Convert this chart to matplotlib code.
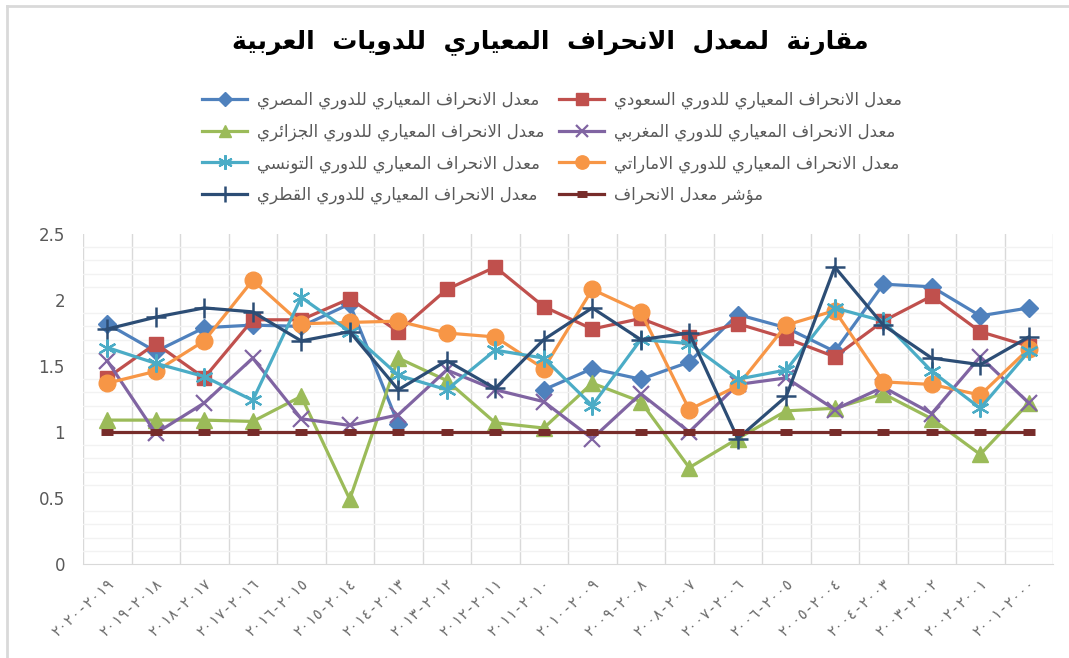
import matplotlib
matplotlib.use("Agg")
import matplotlib.pyplot as plt
import numpy as np

# ---------------- data ----------------
categories = ["٢٠٢٠-٢٠١٩", "٢٠١٩-٢٠١٨", "٢٠١٨-٢٠١٧", "٢٠١٧-٢٠١٦", "٢٠١٦-٢٠١٥",
              "٢٠١٥-٢٠١٤", "٢٠١٤-٢٠١٣", "٢٠١٣-٢٠١٢", "٢٠١٢-٢٠١١", "٢٠١١-٢٠١٠",
              "٢٠١٠-٢٠٠٩", "٢٠٠٩-٢٠٠٨", "٢٠٠٨-٢٠٠٧", "٢٠٠٧-٢٠٠٦", "٢٠٠٦-٢٠٠٥",
              "٢٠٠٥-٢٠٠٤", "٢٠٠٤-٢٠٠٣", "٢٠٠٣-٢٠٠٢", "٢٠٠٢-٢٠٠١", "٢٠٠١-٢٠٠٠"]

egypt = [1.82, 1.61, 1.79, 1.81, 1.80, 1.97, 1.06, None, None, 1.32,
         1.48, 1.40, 1.53, 1.89, 1.79, 1.61, 2.12, 2.10, 1.88, 1.94]
saudi = [1.41, 1.67, 1.41, 1.85, 1.85, 2.01, 1.76, 2.08, 2.25, 1.95,
         1.78, 1.86, 1.72, 1.82, 1.71, 1.57, 1.84, 2.03, 1.76, 1.65]
algeria = [1.09, 1.09, 1.09, 1.08, 1.27, 0.49, 1.56, 1.39, 1.07, 1.03,
           1.37, 1.23, 0.73, 0.95, 1.16, 1.18, 1.29, 1.10, 0.83, 1.22]
morocco = [1.54, 0.99, 1.22, 1.56, 1.10, 1.05, 1.13, 1.47, 1.32, 1.23,
           0.95, 1.29, 1.00, 1.36, 1.41, 1.17, 1.34, 1.14, 1.57, 1.22]
uae = [1.37, 1.46, 1.69, 2.15, 1.82, 1.83, 1.84, 1.75, 1.72, 1.48,
       2.08, 1.91, 1.17, 1.35, 1.81, 1.92, 1.38, 1.36, 1.28, 1.63]
tunisia = [1.64, 1.52, 1.42, 1.24, 2.02, 1.76, 1.43, 1.32, 1.62, 1.56,
           1.20, 1.70, 1.67, 1.40, 1.47, 1.94, 1.84, 1.46, 1.18, 1.61]
qatar = [1.78, 1.87, 1.94, 1.91, 1.69, 1.76, 1.32, 1.54, 1.33, 1.70,
         1.94, 1.70, 1.75, 0.95, 1.27, 2.25, 1.81, 1.56, 1.51, 1.72]
index_line = [1.0] * 20

title = "مقارنة لمعدل الانحراف المعياري للدويات العربية"
names = {
    "egypt": "معدل الانحراف المعياري للدوري المصري",
    "saudi": "معدل الانحراف المعياري للدوري السعودي",
    "algeria": "معدل الانحراف المعياري للدوري الجزائري",
    "morocco": "معدل الانحراف المعياري للدوري المغربي",
    "tunisia": "معدل الانحراف المعياري للدوري التونسي",
    "uae": "معدل الانحراف المعياري للدوري الاماراتي",
    "qatar": "معدل الانحراف المعياري للدوري القطري",
    "index": "مؤشر معدل الانحراف",
}
y_ticks = [0, 0.5, 1, 1.5, 2, 2.5]
y_tick_labels = ["0", "0.5", "1", "1.5", "2", "2.5"]

# ---------------- minimal Arabic shaping ----------------
_DUAL = {'\u0626': 0xFE89, '\u0628': 0xFE8F, '\u062A': 0xFE95, '\u062B': 0xFE99,
         '\u062C': 0xFE9D, '\u062D': 0xFEA1, '\u062E': 0xFEA5, '\u0633': 0xFEB1,
         '\u0634': 0xFEB5, '\u0635': 0xFEB9, '\u0636': 0xFEBD, '\u0637': 0xFEC1,
         '\u0638': 0xFEC5, '\u0639': 0xFEC9, '\u063A': 0xFECD, '\u0641': 0xFED1,
         '\u0642': 0xFED5, '\u0643': 0xFED9, '\u0644': 0xFEDD, '\u0645': 0xFEE1,
         '\u0646': 0xFEE5, '\u0647': 0xFEE9, '\u064A': 0xFEF1}
_RIGHT = {'\u0622': 0xFE81, '\u0623': 0xFE83, '\u0624': 0xFE85, '\u0625': 0xFE87,
          '\u0627': 0xFE8D, '\u0629': 0xFE93, '\u062F': 0xFEA9, '\u0630': 0xFEAB,
          '\u0631': 0xFEAD, '\u0632': 0xFEAF, '\u0648': 0xFEED, '\u0649': 0xFEEF}
_NONE = {'\u0621': 0xFE80}
_LAMALEF = {'\u0622': 0xFEF5, '\u0623': 0xFEF7, '\u0625': 0xFEF9, '\u0627': 0xFEFB}


def _joins(c):
    return c in _DUAL or c in _RIGHT


def shape(text):
    out = []
    i = 0
    n = len(text)
    prev_dual = False
    while i < n:
        c = text[i]
        if c == '\u0644' and i + 1 < n and text[i + 1] in _LAMALEF:
            base = _LAMALEF[text[i + 1]]
            out.append(chr(base + (1 if prev_dual else 0)))
            prev_dual = False
            i += 2
            continue
        nxt = text[i + 1] if i + 1 < n else ''
        if c in _DUAL:
            cp = prev_dual
            cn = _joins(nxt)
            base = _DUAL[c]
            if cp and cn:
                ch = base + 3
            elif cp:
                ch = base + 1
            elif cn:
                ch = base + 2
            else:
                ch = base
            out.append(chr(ch))
            prev_dual = True
        elif c in _RIGHT:
            out.append(chr(_RIGHT[c] + (1 if prev_dual else 0)))
            prev_dual = False
        elif c in _NONE:
            out.append(chr(_NONE[c]))
            prev_dual = False
        else:
            out.append(c)
            prev_dual = False
        i += 1
    return ''.join(out)[::-1]


# ---------------- figure ----------------
plt.rcParams['font.family'] = ['DejaVu Sans']
fig = plt.figure(figsize=(10.69, 6.58), dpi=100)
ax = fig.add_axes([83 / 1069, 1 - 564 / 658, (1053 - 83) / 1069, (564 - 234) / 658])

x = np.arange(len(categories))


def arr(v):
    return np.array([np.nan if a is None else a for a in v], dtype=float)


series = [
    ("egypt", egypt, '#4F81BD', 'D', 9, {}),
    ("saudi", saudi, '#C0504D', 's', 10, {}),
    ("algeria", algeria, '#9BBB59', '^', 11, {}),
    ("morocco", morocco, '#8064A2', 'x', 11, {'markeredgewidth': 1.6}),
    ("uae", uae, '#F79646', 'o', 12, {}),
    ("tunisia", tunisia, '#4BACC6', (6, 2, 0), 13, {'markeredgewidth': 1.6}),
    ("qatar", qatar, '#2C4D75', '+', 14, {'markeredgewidth': 1.8}),
    ("index", index_line, '#772C2A', '_', 9, {'markeredgewidth': 5}),
]

handles = {}
for key, vals, col, mk, ms, extra in series:
    ln, = ax.plot(x, arr(vals), color=col, lw=2.3, marker=mk, markersize=ms,
                  markerfacecolor=col, markeredgecolor=col, label=shape(names[key]),
                  zorder=3, **extra)
    handles[key] = ln

ax.set_xlim(-0.5, len(categories) - 0.5)
ax.set_ylim(0, 2.5)
ax.set_yticks(y_ticks)
ax.set_yticklabels(y_tick_labels, fontsize=12, color='#595959')
ax.set_yticks(np.arange(0, 2.51, 0.1), minor=True)
ax.set_xticks(x)
ax.set_xticklabels(categories, rotation=42, ha='right', va='top', rotation_mode='anchor',
                   fontsize=10.5, color='#6A6A6A',
                   family=['DejaVu Sans Mono', 'DejaVu Sans'])
ax.set_xticks(np.arange(-0.5, len(categories), 1), minor=True)
ax.tick_params(axis='both', which='both', length=0)
ax.tick_params(axis='y', pad=13)
ax.tick_params(axis='x', pad=8)
ax.grid(False)
ax.grid(which='minor', axis='y', color='#F2F2F2', lw=1)
ax.grid(which='minor', axis='x', color='#D9D9D9', lw=1)
ax.set_axisbelow(True)
for s in ['top', 'right', 'left']:
    ax.spines[s].set_visible(False)
ax.spines['bottom'].set_color('#D9D9D9')

# title
fig.text(550 / 1069, 1 - 42 / 658, shape(title).replace(' ', '  '), ha='center', va='center',
         fontsize=18, fontweight='bold', color='black')

# legend
order = ["egypt", "algeria", "tunisia", "qatar", "saudi", "morocco", "uae", "index"]
leg = fig.legend([handles[k] for k in order], [shape(names[k]) for k in order],
                 ncol=2, loc='upper left', bbox_to_anchor=(187 / 1069, 1 - 76 / 658),
                 frameon=False, fontsize=12, labelcolor='#595959', markerscale=0.8,
                 handlelength=2.7, columnspacing=0.9, labelspacing=0.8, handletextpad=0.6)

# chart frame (top & left visible)
fig.add_artist(plt.Line2D([7 / 1069, 7 / 1069], [0, 1 - 6 / 658], transform=fig.transFigure,
                          color='#D9D9D9', lw=2))
fig.add_artist(plt.Line2D([7 / 1069, 1], [1 - 6 / 658, 1 - 6 / 658], transform=fig.transFigure,
                          color='#D9D9D9', lw=2))

fig.savefig('out.png', dpi=100, facecolor='white')
